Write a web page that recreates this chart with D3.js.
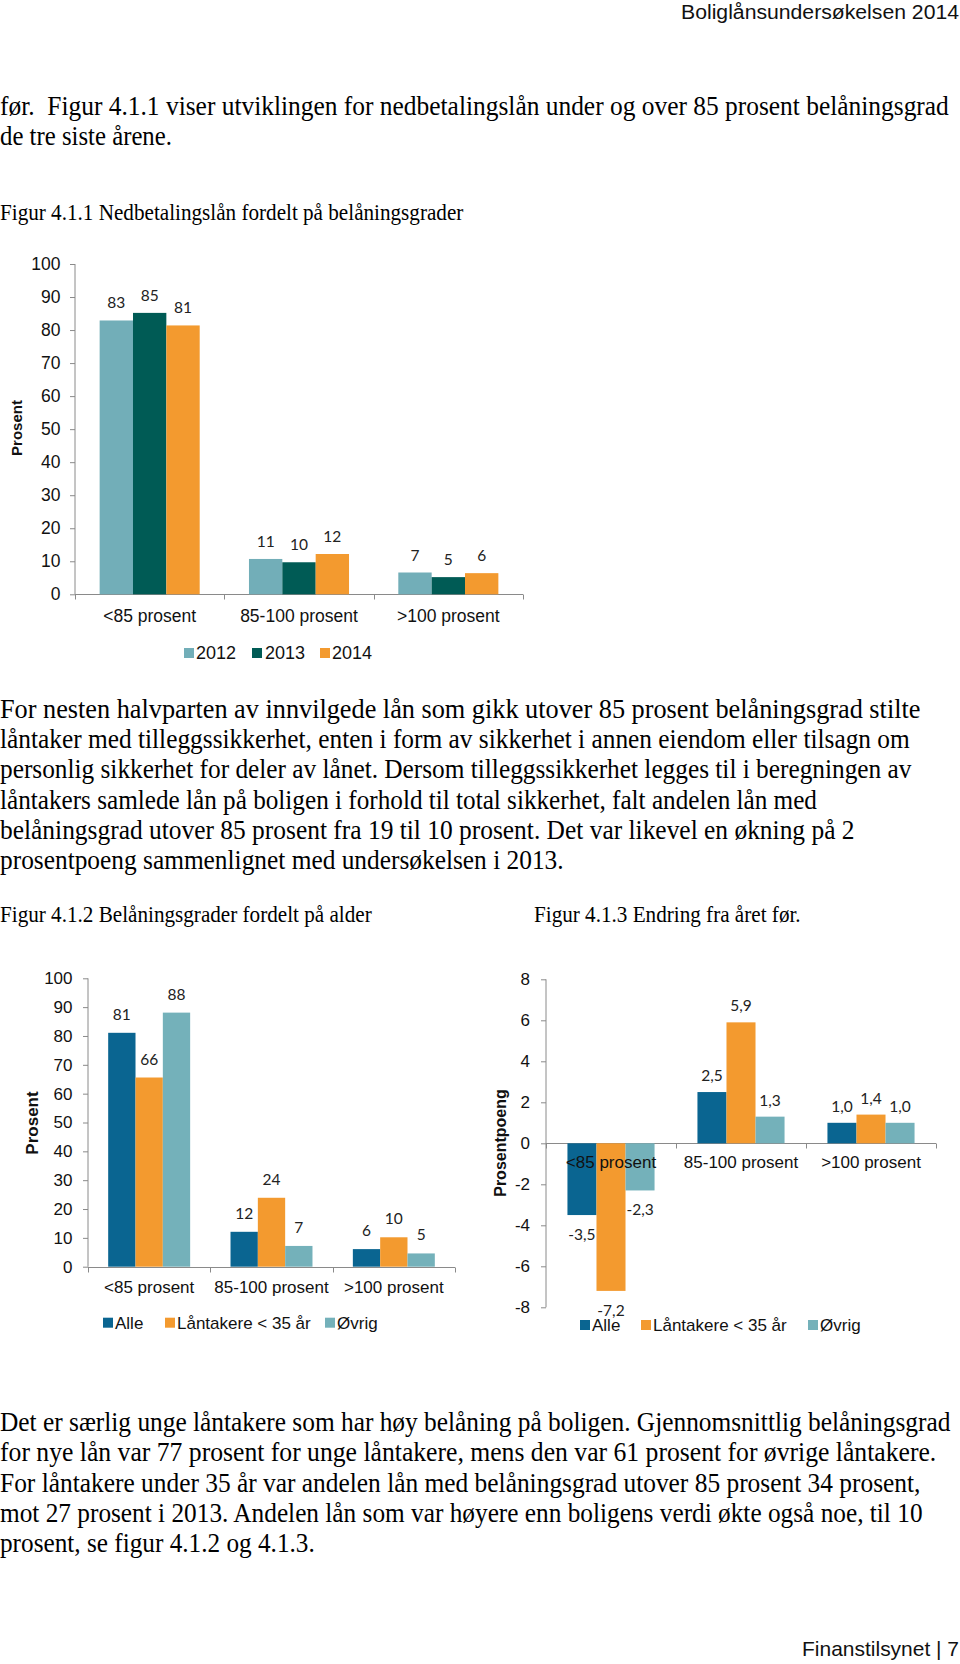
<!DOCTYPE html>
<html><head><meta charset="utf-8">
<script src="https://cdn.jsdelivr.net/npm/d3@7"></script>
<style>html,body{margin:0;padding:0;background:#fff}</style>
</head><body>
<svg id="page" width="960" height="1664"></svg>
<script>
// ---------- DATA ----------
const categories = ["<85 prosent", "85-100 prosent", ">100 prosent"];
const years = ["2012", "2013", "2014"];
const fig1_2012 = [82.9, 10.7, 6.6];
const fig1_2013 = [85.2, 9.7, 5.2];
const fig1_2014 = [81.4, 12.2, 6.4];
const fig1Ticks = [0, 10, 20, 30, 40, 50, 60, 70, 80, 90, 100];

const groups = ["Alle", "Låntakere < 35 år", "Øvrig"];
const fig2_alle = [81.1, 12.1, 6.1];
const fig2_young = [65.6, 23.9, 10.2];
const fig2_other = [88.1, 7.2, 4.6];
const fig2Ticks = [0, 10, 20, 30, 40, 50, 60, 70, 80, 90, 100];

const fig3_alle = [-3.5, 2.5, 1.0];
const fig3_young = [-7.2, 5.9, 1.4];
const fig3_other = [-2.3, 1.3, 1.0];
const fig3Ticks = [-8, -6, -4, -2, 0, 2, 4, 6, 8];

const headerText = "Boliglånsundersøkelsen 2014";
const footerText = "Finanstilsynet | 7";
const para1 = ["før.  Figur 4.1.1 viser utviklingen for nedbetalingslån under og over 85 prosent belåningsgrad",
               "de tre siste årene."];
const caption1 = "Figur 4.1.1 Nedbetalingslån fordelt på belåningsgrader";
const para2 = ["For nesten halvparten av innvilgede lån som gikk utover 85 prosent belåningsgrad stilte",
               "låntaker med tilleggssikkerhet, enten i form av sikkerhet i annen eiendom eller tilsagn om",
               "personlig sikkerhet for deler av lånet. Dersom tilleggssikkerhet legges til i beregningen av",
               "låntakers samlede lån på boligen i forhold til total sikkerhet, falt andelen lån med",
               "belåningsgrad utover 85 prosent fra 19 til 10 prosent. Det var likevel en økning på 2",
               "prosentpoeng sammenlignet med undersøkelsen i 2013."];
const caption2 = "Figur 4.1.2 Belåningsgrader fordelt på alder";
const caption3 = "Figur 4.1.3 Endring fra året før.";
const para3 = ["Det er særlig unge låntakere som har høy belåning på boligen. Gjennomsnittlig belåningsgrad",
               "for nye lån var 77 prosent for unge låntakere, mens den var 61 prosent for øvrige låntakere.",
               "For låntakere under 35 år var andelen lån med belåningsgrad utover 85 prosent 34 prosent,",
               "mot 27 prosent i 2013. Andelen lån som var høyere enn boligens verdi økte også noe, til 10",
               "prosent, se figur 4.1.2 og 4.1.3."];

// ---------- LAYOUT (line widths in px) ----------
const para1W = [949, 172];
const para2W = [921, 910, 912, 817, 855, 564];
const para3W = [951, 937, 921, 923, 315];

// ---------- STYLE ----------
const SERIF = "'Liberation Serif','Times New Roman',serif";
const SANS = "'Liberation Sans',Arial,sans-serif";
const LBL = "Lato,'Open Sans',sans-serif";
const AXIS = "#8a8a8a";
const C = {teal: "#72AEB8", dark: "#005B55", orange: "#F39A2F", blue: "#0A6591", lteal: "#74B1BA"};

const svg = d3.select("#page");
svg.append("rect").attr("width", 960).attr("height", 1664).attr("fill", "#fff");

function measure(str, size, family, weight) {
  const t = svg.append("text").style("font-family", family).style("font-size", size + "px")
    .style("font-weight", weight || "normal").style("white-space", "pre").text(str);
  const w = t.node().getComputedTextLength(); t.remove(); return w;
}
function line(str, x, y, size, family, sx, anchor, color) {
  svg.append("text").attr("transform", `translate(${x},${y}) scale(${sx},1)`)
    .attr("text-anchor", anchor || "start")
    .style("font-family", family).style("font-size", size + "px").style("white-space", "pre")
    .attr("fill", color || "#000").text(str);
}
function fitLine(str, x, y, size, family, w, anchor, color) {
  line(str, x, y, size, family, w / measure(str, size, family), anchor, color);
}

// ---------- PAGE TEXT ----------
const bodySize = 27;
const sxSerif = 912 / measure(para2[2], bodySize, SERIF);
const capSize = bodySize * 463.6 / (measure(caption1, bodySize, SERIF) * sxSerif);

fitLine(headerText, 959, 19, 19.5, SANS, 278, "end", "#111");
fitLine(footerText, 959, 1656, 20, SANS, 157, "end", "#111");

para1.forEach((s, i) => fitLine(s, 0, 115 + i * 30, bodySize, SERIF, para1W[i]));
line(caption1, 0, 220, capSize, SERIF, sxSerif);
para2.forEach((s, i) => fitLine(s, 0, 718 + i * 30.2, bodySize, SERIF, para2W[i]));
line(caption2, 0, 922, capSize, SERIF, sxSerif);
line(caption3, 534, 922, capSize, SERIF, sxSerif);
para3.forEach((s, i) => fitLine(s, 0, 1431 + i * 30.3, bodySize, SERIF, para3W[i]));

// ---------- CHART BUILDER ----------
function barChart(cfg) {
  const g = svg.append("g");
  const y = d3.scaleLinear().domain(cfg.yDomain).range(cfg.yRange);
  const x = d3.scaleBand().domain(categories).range(cfg.xRange).paddingInner(0.33).paddingOuter(0.165);
  const x1 = d3.scaleBand().domain(cfg.names).range([0, x.bandwidth()]);
  const rows = [];
  cfg.series.forEach((arr, si) => arr.forEach((v, ci) => rows.push({cat: categories[ci], name: cfg.names[si], v, color: cfg.colors[si]})));
  const fs = cfg.fontSize || 17;

  // y axis
  const ya = g.append("g").attr("transform", `translate(${cfg.xRange[0]},0)`)
    .call(d3.axisLeft(y).tickValues(cfg.ticks).tickSize(5).tickPadding(cfg.tickPad).tickFormat(d => String(d)));
  ya.select(".domain").attr("stroke", AXIS).attr("d", `M-0.5,${y(cfg.yDomain[0])}V${y(cfg.yDomain[1])}`).attr("transform", "translate(0.5,0)");
  ya.selectAll(".tick line").attr("stroke", AXIS);
  ya.selectAll(".tick text").style("font-family", SANS).style("font-size", fs + "px").attr("fill", "#111");

  // x axis line at zero
  const y0 = Math.round(y(0)) + 0.5;
  g.append("line").attr("x1", cfg.xRange[0]).attr("x2", cfg.xRange[1]).attr("y1", y0).attr("y2", y0).attr("stroke", AXIS);
  d3.range(categories.length + 1).forEach(i => {
    const bx = Math.round(cfg.xRange[0] + i * x.step()) + 0.5;
    g.append("line").attr("x1", bx).attr("x2", bx).attr("y1", y0).attr("y2", y0 + 5).attr("stroke", AXIS);
  });

  // bars
  g.selectAll("rect.bar").data(rows).join("rect").attr("class", "bar")
    .attr("x", d => x(d.cat) + x1(d.name)).attr("width", x1.bandwidth())
    .attr("y", d => y(Math.max(0, d.v))).attr("height", d => Math.abs(y(d.v) - y(0)))
    .attr("fill", d => d.color);

  // category labels
  g.selectAll("text.cat").data(categories).join("text").attr("class", "cat")
    .attr("x", d => x(d) + x.bandwidth() / 2).attr("y", cfg.catY).attr("text-anchor", "middle")
    .style("font-family", SANS).style("font-size", fs + "px").attr("fill", "#111").text(d => d);

  // data labels
  g.selectAll("text.val").data(rows).join("text").attr("class", "val")
    .attr("x", d => x(d.cat) + x1(d.name) + x1.bandwidth() / 2)
    .attr("y", d => d.v >= 0 ? y(d.v) - cfg.labOff : y(d.v) + cfg.labOffNeg)
    .attr("text-anchor", "middle").style("font-family", LBL).style("font-size", "15.5px").attr("fill", "#222")
    .text(d => cfg.fmt(d.v));

  // y title
  g.append("text").attr("transform", `translate(${cfg.title.x},${cfg.title.y}) rotate(-90)`)
    .attr("text-anchor", "middle").attr("dy", "0.35em")
    .style("font-family", SANS).style("font-weight", "bold").style("font-size", cfg.title.size + "px")
    .attr("fill", "#111").text(cfg.title.text);

  // legend
  cfg.names.forEach((n, i) => {
    const it = cfg.legend.items[i];
    g.append("rect").attr("x", it[0]).attr("y", cfg.legend.y - 5).attr("width", 10).attr("height", 10).attr("fill", cfg.colors[i]);
    g.append("text").attr("x", it[1]).attr("y", cfg.legend.y + 6)
      .style("font-family", SANS).style("font-size", (cfg.legend.size || 17) + "px").attr("fill", "#111").text(n);
  });
}

const fmtInt = v => String(Math.round(v));
const fmtDec = v => v.toFixed(1).replace(".", ",");

barChart({
  series: [fig1_2012, fig1_2013, fig1_2014], names: years, colors: [C.teal, C.dark, C.orange],
  yDomain: [0, 100], yRange: [594.3, 264], xRange: [75, 523], ticks: fig1Ticks, tickPad: 9.5,
  catY: 621.5, labOff: 12, labOffNeg: 25, fmt: fmtInt, fontSize: 17.5,
  title: {text: "Prosent", x: 17, y: 428, size: 15},
  legend: {y: 653, size: 18, items: [[184, 196], [252, 265], [320, 332]]}
});

barChart({
  series: [fig2_alle, fig2_young, fig2_other], names: groups, colors: [C.blue, C.orange, C.lteal],
  yDomain: [0, 100], yRange: [1266.7, 978.3], xRange: [88, 455], ticks: fig2Ticks, tickPad: 10.5,
  catY: 1293, labOff: 13, labOffNeg: 25, fmt: fmtInt,
  title: {text: "Prosent", x: 32, y: 1123, size: 17},
  legend: {y: 1322.7, items: [[103, 115], [165, 177], [325, 337]]}
});

barChart({
  series: [fig3_alle, fig3_young, fig3_other], names: groups, colors: [C.blue, C.orange, C.lteal],
  yDomain: [-8, 8], yRange: [1307.3, 979.3], xRange: [546, 936], ticks: fig3Ticks, tickPad: 11,
  catY: 1168, labOff: 11, labOffNeg: 25, fmt: fmtDec,
  title: {text: "Prosentpoeng", x: 500, y: 1143, size: 16},
  legend: {y: 1325, items: [[580, 592], [641, 653], [808, 820]]}
});
</script>
</body></html>
